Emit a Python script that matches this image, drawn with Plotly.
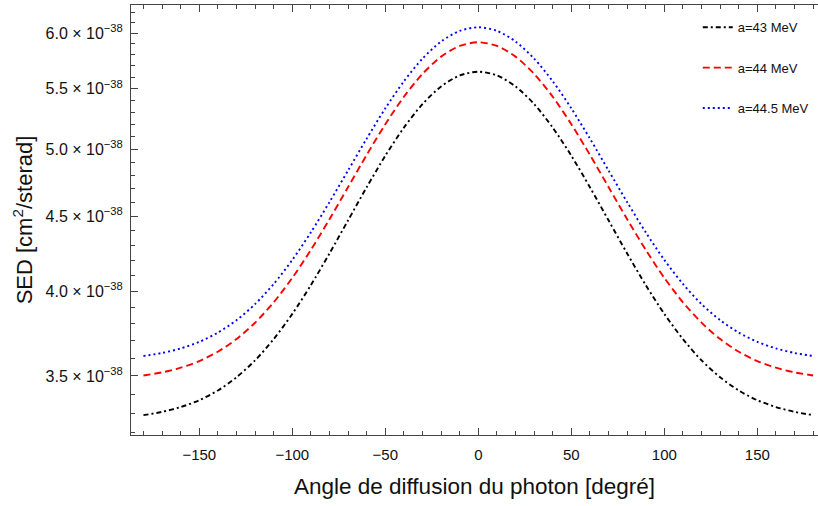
import plotly.graph_objects as go

# Photon scattering angle (degrees)
angles = [-180, -170, -160, -150, -140, -130, -120, -110, -100, -90, -80, -70, -60, -50, -40, -30, -20, -10,
          0, 10, 20, 30, 40, 50, 60, 70, 80, 90, 100, 110, 120, 130, 140, 150, 160, 170, 180]

# SED values in units of 1e-38 cm^2/sterad
sed_43 = [3.291, 3.308, 3.333, 3.369, 3.421, 3.493, 3.587, 3.709, 3.859, 4.038, 4.244, 4.471, 4.710, 4.949,
          5.173, 5.368, 5.519, 5.615, 5.648, 5.615, 5.519, 5.368, 5.173, 4.949, 4.710, 4.471, 4.244, 4.038,
          3.859, 3.709, 3.587, 3.493, 3.421, 3.369, 3.333, 3.308, 3.291]
sed_44 = [3.503, 3.520, 3.546, 3.583, 3.636, 3.709, 3.806, 3.930, 4.084, 4.268, 4.479, 4.711, 4.956, 5.200,
          5.430, 5.629, 5.784, 5.882, 5.916, 5.882, 5.784, 5.629, 5.430, 5.200, 4.956, 4.711, 4.479, 4.268,
          4.084, 3.930, 3.806, 3.709, 3.636, 3.583, 3.546, 3.520, 3.503]
sed_445 = [3.612, 3.629, 3.655, 3.693, 3.747, 3.821, 3.919, 4.045, 4.201, 4.387, 4.601, 4.836, 5.084, 5.332,
           5.564, 5.766, 5.923, 6.023, 6.057, 6.023, 5.923, 5.766, 5.564, 5.332, 5.084, 4.836, 4.601, 4.387,
           4.201, 4.045, 3.919, 3.821, 3.747, 3.693, 3.655, 3.629, 3.612]

series_names = ["a=43 MeV", "a=44 MeV", "a=44.5 MeV"]
series_colors = ["black", "red", "blue"]
series_dash = ["5px,3px,2px,3px", "7px,4px", "2px,3px"]

x_tickvals = [-150, -100, -50, 0, 50, 100, 150]
x_ticktext = ["\u2212150", "\u2212100", "\u221250", "0", "50", "100", "150"]
y_major = [3.5, 4.0, 4.5, 5.0, 5.5, 6.0]
y_minor = [3.2, 3.3, 3.4, 3.6, 3.7, 3.8, 3.9, 4.1, 4.2, 4.3, 4.4, 4.6, 4.7, 4.8, 4.9,
           5.1, 5.2, 5.3, 5.4, 5.6, 5.7, 5.8, 5.9, 6.1, 6.2]
EXP = -38
SCALE = 10.0 ** EXP

FONT = "Liberation Sans, Arial, Helvetica, sans-serif"

fig = go.Figure()
for name, vals, col, dash, grp in zip(series_names, [sed_43, sed_44, sed_445], series_colors, series_dash,
                                      ["g1", "g2", "g3"]):
    fig.add_trace(go.Scatter(
        x=angles, y=[v * SCALE for v in vals], mode="lines", name=name, legendgroup=grp,
        line=dict(color=col, width=1.9, dash=dash, shape="spline", smoothing=0.8),
    ))

y_ticktext = [f"{v:.1f} \u00d7 10<sup>\u2212{abs(EXP)}</sup>" for v in y_major]

fig.update_layout(
    width=818, height=506,
    margin=dict(l=131, r=0, t=5, b=71),
    paper_bgcolor="white", plot_bgcolor="white",
    font=dict(family=FONT, size=15, color="#111"),
    showlegend=True,
    legend=dict(x=0.825, y=0.983, xanchor="left", yanchor="top", bgcolor="rgba(0,0,0,0)",
                font=dict(size=13, color="#111"), tracegroupgap=20.5, itemwidth=30),
    xaxis=dict(
        range=[-186.7, 182.6], tickvals=x_tickvals, ticktext=x_ticktext,
        tickfont=dict(size=15),
        ticks="inside", ticklen=7, tickwidth=1, tickcolor="#444",
        showline=True, linecolor="#444", linewidth=1, mirror="ticks",
        showgrid=False, zeroline=False,
        minor=dict(dtick=10, tick0=0, ticks="inside", ticklen=4, tickcolor="#444", showgrid=False),
        ticklabelstandoff=6,
        title=dict(text="Angle de diffusion du photon [degré]", font=dict(size=22.5, color="#111"), standoff=16),
    ),
    yaxis=dict(
        type="log", range=[-37.49624, -37.20252],
        tickmode="array", tickvals=[v * SCALE for v in y_major], ticktext=y_ticktext,
        tickfont=dict(size=16),
        ticks="inside", ticklen=7, tickwidth=1, tickcolor="#444",
        showline=True, linecolor="#444", linewidth=1,
        showgrid=False, zeroline=False,
        minor=dict(tickmode="array", tickvals=[v * SCALE for v in y_minor], ticks="inside", ticklen=4,
                   tickcolor="#444", showgrid=False),
        ticklabelstandoff=4,
        title=dict(text="SED [cm<sup>2</sup>/sterad]", font=dict(size=22, color="#111"), standoff=6),
    ),
)

fig.write_html("out.html")
